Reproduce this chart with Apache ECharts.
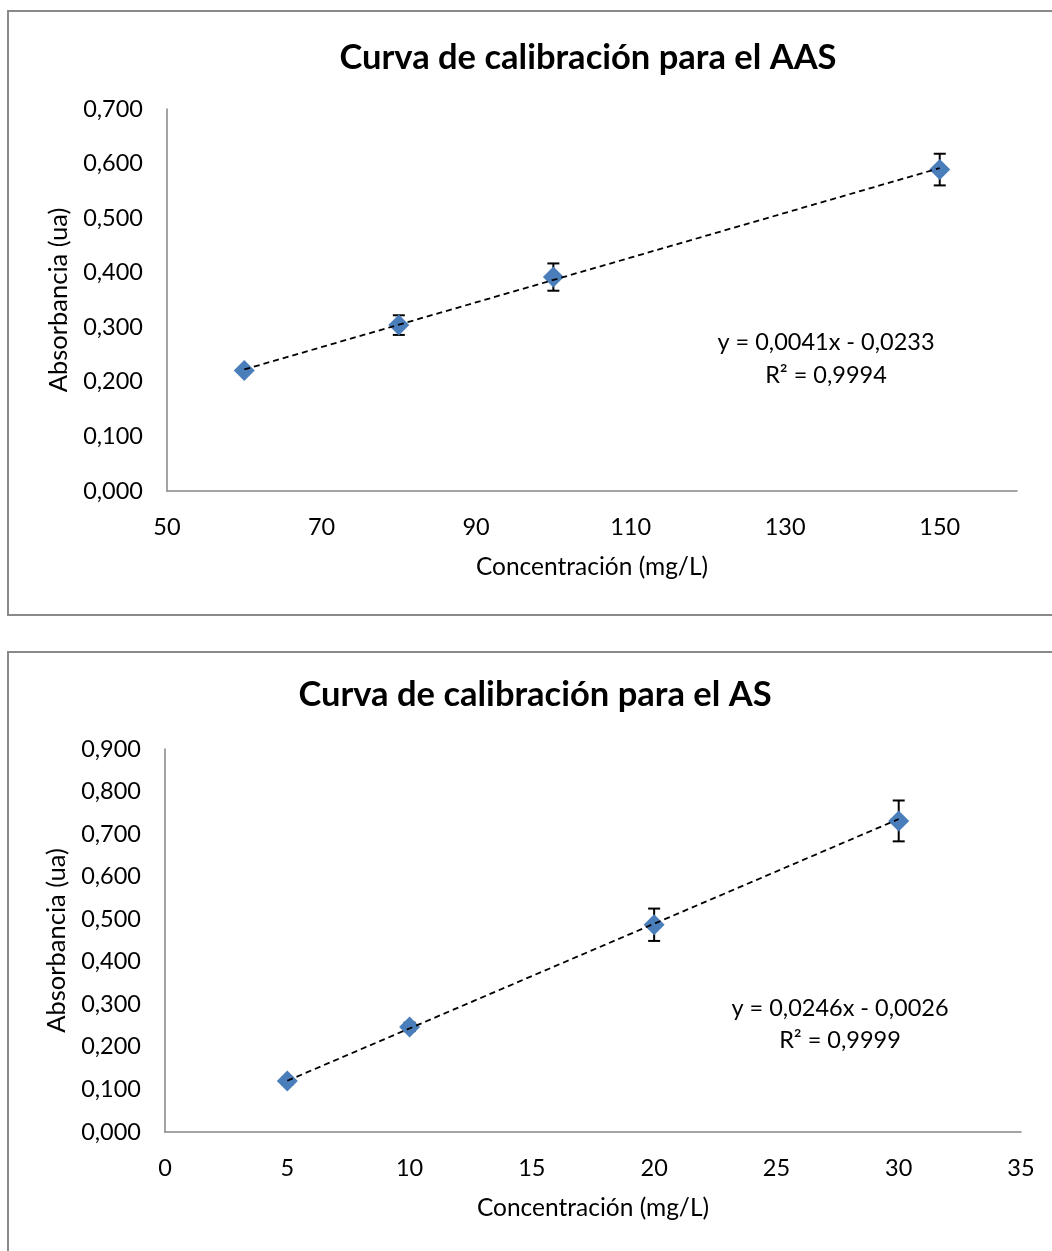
<!DOCTYPE html>
<html><head><meta charset="utf-8">
<script src="https://cdn.jsdelivr.net/npm/echarts@6/dist/echarts.min.js"></script>
<style>html,body{margin:0;padding:0;background:#fff}#c{width:1052px;height:1251px}</style>
</head><body><div id="c"></div>
<script>
// Chart 1: AAS
var aasConc = [60, 80, 100, 150];
var aasAbs = [0.221, 0.304, 0.392, 0.589];
var aasErr = [0.004, 0.018, 0.025, 0.029];
var aasTrendX = [60, 150];
var aasTrendY = [0.2227, 0.5917];
var aasEq = ['y = 0,0041x - 0,0233', 'R² = 0,9994'];
// Chart 2: AS
var asConc = [5, 10, 20, 30];
var asAbs = [0.120, 0.247, 0.487, 0.731];
var asErr = [0.008, 0.010, 0.038, 0.048];
var asTrendX = [5, 30];
var asTrendY = [0.1204, 0.7354];
var asEq = ['y = 0,0246x - 0,0026', 'R² = 0,9999'];

var FONT = 'Lato';
var chart = echarts.init(document.getElementById('c'), null, {renderer: 'canvas'});
function zip(a, b) { return a.map(function (v, i) { return [v, b[i]]; }); }
function errData(x, y, e) { return x.map(function (v, i) { return [v, y[i] - e[i], y[i] + e[i]]; }); }
function errRender(params, api) {
  var x = api.value(0), lo = api.value(1), hi = api.value(2);
  var p1 = api.coord([x, hi]), p2 = api.coord([x, lo]);
  var w = 6;
  var st = {stroke: '#000', lineWidth: 2};
  return {type: 'group', children: [
    {type: 'line', shape: {x1: p1[0], y1: p1[1], x2: p2[0], y2: p2[1]}, style: st},
    {type: 'line', shape: {x1: p1[0] - w, y1: p1[1], x2: p1[0] + w, y2: p1[1]}, style: st},
    {type: 'line', shape: {x1: p2[0] - w, y1: p2[1], x2: p2[0] + w, y2: p2[1]}, style: st}
  ]};
}
function yFmt(v) { return v.toFixed(3).replace('.', ','); }
var axisLine = {show: true, lineStyle: {color: '#868686', width: 1.5}};
function xAxis(idx, min, max, interval, showMax) {
  return {type: 'value', gridIndex: idx, min: min, max: max, interval: interval,
    axisLine: axisLine, axisTick: {show: false}, splitLine: {show: false},
    axisLabel: {color: '#000', fontSize: 23.5, fontFamily: FONT, margin: 24,
      showMaxLabel: showMax},
    name: 'Concentración (mg/L)', nameLocation: 'middle', nameGap: 64,
    nameTextStyle: {color: '#000', fontSize: 24.5, fontFamily: FONT}};
}
function yAxis(idx, max) {
  return {type: 'value', gridIndex: idx, min: 0, max: max, interval: 0.1,
    axisLine: axisLine, axisTick: {show: false}, splitLine: {show: false},
    axisLabel: {color: '#000', fontSize: 23.5, fontFamily: FONT, margin: 24, formatter: yFmt},
    name: 'Absorbancia (ua)', nameLocation: 'middle', nameGap: 94,
    nameTextStyle: {color: '#000', fontSize: 25.5, fontFamily: FONT}};
}
function seriesFor(idx, cx, cy, e, tx, ty) {
  return [
    {type: 'custom', xAxisIndex: idx, yAxisIndex: idx, renderItem: errRender,
      data: errData(cx, cy, e), z: 2, silent: true},
    {type: 'scatter', xAxisIndex: idx, yAxisIndex: idx, symbol: 'diamond', symbolSize: 21,
      itemStyle: {color: '#4a7ebb', opacity: 1}, data: zip(cx, cy), z: 3},
    {type: 'line', xAxisIndex: idx, yAxisIndex: idx, data: zip(tx, ty), showSymbol: false,
      symbol: 'none', lineStyle: {color: '#000', width: 1.8, type: [6, 4]}, z: 4, silent: true}
  ];
}
function label(x, y, s, size, bold) {
  return {type: 'text', x: x, y: y, silent: true, style: {text: s, fill: '#000',
    font: (bold ? 'bold ' : '') + size + 'px ' + FONT, textAlign: 'center', textVerticalAlign: 'middle'}};
}
var option = {
  animation: false,
  backgroundColor: '#fff',
  grid: [
    {left: 167, top: 109, right: 35, height: 382},
    {left: 165, top: 749, right: 31, height: 383}
  ],
  xAxis: [xAxis(0, 50, 160, 20, false), xAxis(1, 0, 35, 5, true)],
  yAxis: [yAxis(0, 0.7), yAxis(1, 0.9)],
  series: seriesFor(0, aasConc, aasAbs, aasErr, aasTrendX, aasTrendY)
    .concat(seriesFor(1, asConc, asAbs, asErr, asTrendX, asTrendY)),
  graphic: [
    {type: 'rect', silent: true, shape: {x: 8, y: 11, width: 1100, height: 604},
      style: {fill: 'none', stroke: '#898989', lineWidth: 2}, z: -1},
    {type: 'rect', silent: true, shape: {x: 8, y: 652, width: 1100, height: 700},
      style: {fill: 'none', stroke: '#898989', lineWidth: 2}, z: -1},
    label(588, 58, 'Curva de calibración para el AAS', 34.5, true),
    label(535, 695, 'Curva de calibración para el AS', 34.5, true),
    label(826, 342, aasEq[0], 23.5),
    label(826, 375, aasEq[1], 23.5),
    label(840, 1008, asEq[0], 23.5),
    label(840, 1040, asEq[1], 23.5)
  ]
};
chart.setOption(option);
</script></body></html>
